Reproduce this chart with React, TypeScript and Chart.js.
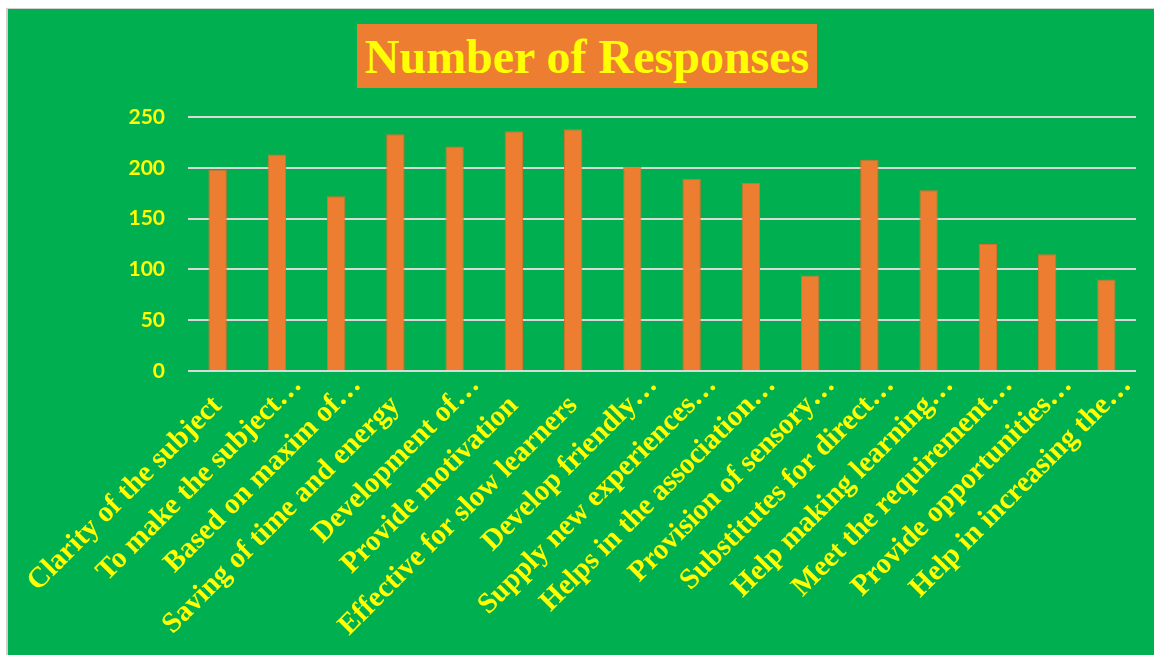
import React, { useEffect, useRef } from "react";
import { Chart, registerables } from "chart.js";

Chart.register(...registerables);

const titleText = "Number of Responses";

const categories: string[] = [
  "Clarity of the subject",
  "To make the subject…",
  "Based on maxim of…",
  "Saving of time and energy",
  "Development of…",
  "Provide motivation",
  "Effective for slow learners",
  "Develop friendly…",
  "Supply new experiences…",
  "Helps in the association…",
  "Provision of sensory…",
  "Substitutes for direct…",
  "Help making learning…",
  "Meet the requirement…",
  "Provide opportunities…",
  "Help in increasing the…",
];

const responses: number[] = [198, 213, 172, 233, 221, 236, 238, 201, 189, 185, 94, 208, 178, 125, 115, 90];

const yMin = 0;
const yMax = 250;
const yStep = 50;

const GREEN = "#00B050";
const ORANGE = "#ED7D31";
const YELLOW = "#FFFF00";
const GRID = "#d9d9d9";

const X_FONT_SIZE = 29;
const X_FONT = `bold ${X_FONT_SIZE}px 'Liberation Serif', 'Times New Roman', serif`;
const X_PAD = 18;
const ELLIPSIS = "…";

// Draws the rotated category labels at the x scale's tick pixels. Truncated labels
// are anchored at the end of their text, with the ellipsis running past it (as Excel does).
const categoryLabelPlugin = {
  id: "categoryLabels",
  afterDraw(chart: any) {
    const xScale = chart.scales.x;
    const ctx = chart.ctx as CanvasRenderingContext2D;
    const labels: string[] = chart.data.labels;
    const rot = -Math.PI / 4;
    const lineHeight = X_FONT_SIZE * 1.2;
    ctx.save();
    ctx.font = X_FONT;
    ctx.fillStyle = YELLOW;
    ctx.textBaseline = "middle";
    ctx.textAlign = "left";
    labels.forEach((label, i) => {
      const px = xScale.getPixelForTick(i) + (lineHeight / 2) * Math.sin(rot);
      const py = xScale.top + X_PAD;
      const core = label.endsWith(ELLIPSIS) ? label.slice(0, -ELLIPSIS.length) : label;
      const w = ctx.measureText(core).width;
      ctx.save();
      ctx.translate(px, py);
      ctx.rotate(rot);
      ctx.fillText(label, -w, lineHeight / 2);
      ctx.restore();
    });
    ctx.restore();
  },
};

export default function App() {
  const canvasRef = useRef<HTMLCanvasElement | null>(null);

  useEffect(() => {
    const canvas = canvasRef.current;
    if (!canvas) return;
    const chart = new Chart(canvas, {
      type: "bar",
      data: {
        labels: categories,
        datasets: [
          {
            label: titleText,
            data: responses,
            backgroundColor: ORANGE,
            borderColor: "#d8712b",
            borderWidth: 1,
            barPercentage: 0.31,
            categoryPercentage: 1,
          },
        ],
      },
      options: {
        responsive: false,
        animation: false,
        devicePixelRatio: 1,
        layout: { padding: { top: 108, right: 18, left: 0, bottom: 0 } },
        plugins: {
          legend: { display: false },
          title: { display: false },
          tooltip: { enabled: false },
        },
        scales: {
          x: {
            grid: { display: false, drawTicks: false },
            border: { display: false },
            ticks: { display: false, autoSkip: false },
            afterFit: (scale: any) => {
              scale.height = 284;
            },
          },
          y: {
            min: yMin,
            max: yMax,
            grid: { color: GRID, lineWidth: 2, drawTicks: false },
            border: { display: false },
            ticks: {
              stepSize: yStep,
              padding: 23,
              color: YELLOW,
              font: { family: "Lato, 'Liberation Sans', sans-serif", size: 21, weight: "bold" },
            },
            afterFit: (scale: any) => {
              scale.width = 180;
            },
          },
        },
      },
      plugins: [categoryLabelPlugin],
    });
    return () => chart.destroy();
  }, []);

  return (
    <div
      style={{
        position: "fixed",
        left: 6,
        top: 8,
        width: 1148,
        height: 647,
        boxSizing: "border-box",
        borderLeft: "2px solid #d0d0d0",
        borderTop: "1px solid #d0d0d0",
        background: GREEN,
        overflow: "hidden",
      }}
    >
      <canvas ref={canvasRef} width={1146} height={646} style={{ display: "block" }} />
      <div
        style={{
          position: "absolute",
          left: 349,
          top: 15,
          width: 460,
          height: 64,
          background: ORANGE,
          color: YELLOW,
          display: "flex",
          alignItems: "center",
          justifyContent: "center",
          fontFamily: "'Liberation Serif', 'Times New Roman', serif",
          fontWeight: "bold",
          fontSize: 48,
          whiteSpace: "nowrap",
        }}
      >
        {titleText}
      </div>
    </div>
  );
}
